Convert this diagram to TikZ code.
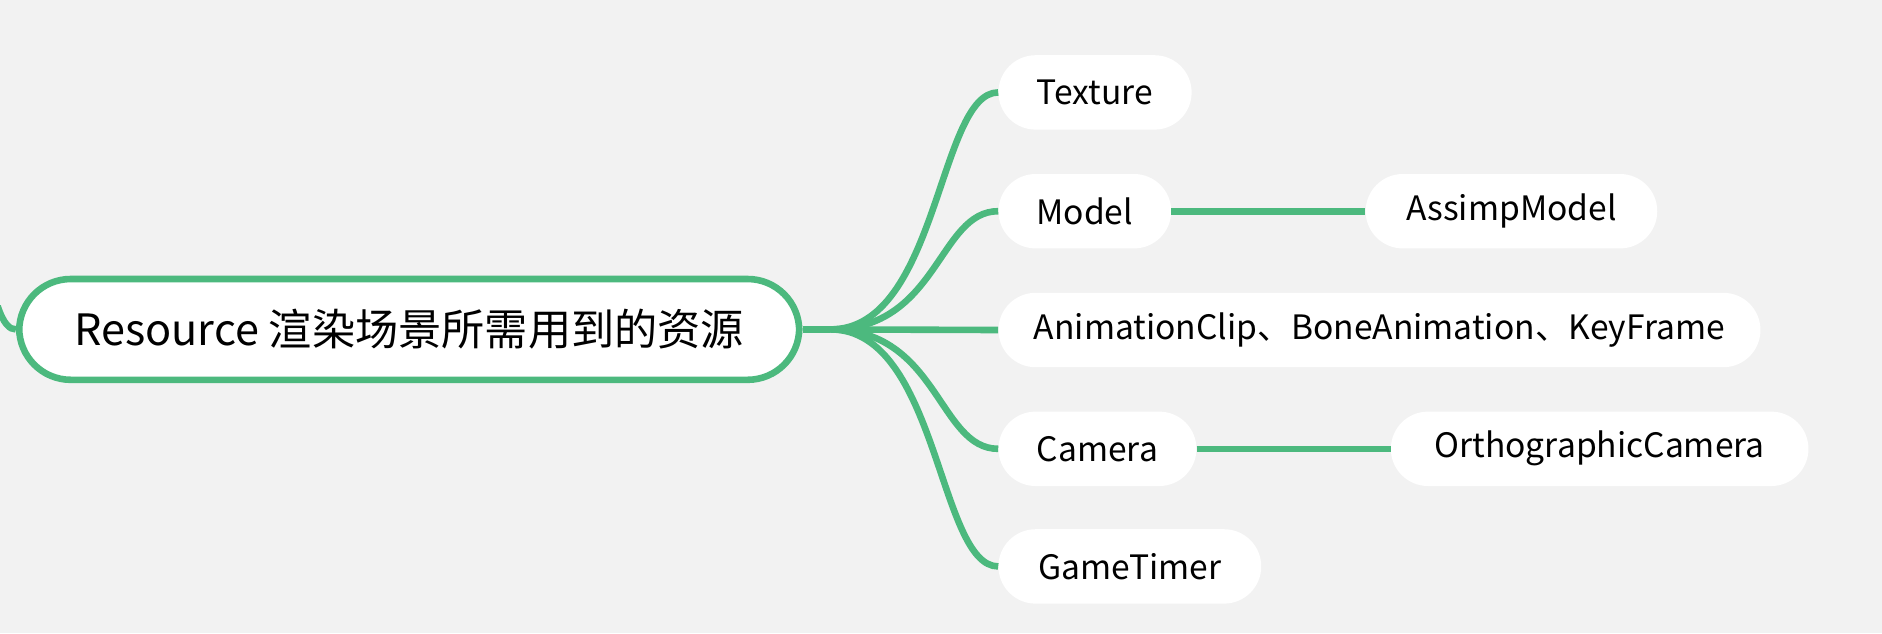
\documentclass[tikz,border=0pt]{standalone}
\usepackage{fontspec}
\setmainfont{Noto Sans CJK SC}
\definecolor{bg}{HTML}{F2F2F2}
\definecolor{lg}{HTML}{4CB97E}
\begin{document}
\begin{tikzpicture}[x=1pt,y=-1pt,
  rootbox/.style={draw=lg,line width=5.5pt,fill=white,rounded corners=43pt,minimum width=650pt,minimum height=84pt,inner sep=0pt,font=\fontsize{36}{42}\selectfont},
  leaf/.style={fill=white,rounded corners=31pt,minimum height=62pt,inner sep=0pt,font=\fontsize{28}{34}\selectfont},
  link/.style={draw=lg,line width=5.5pt}]
\useasboundingbox[fill=bg] (0,0) rectangle (1568.3,527.5);
\node[rootbox] (root) at (341,274.5) {Resource 渲染场景所需用到的资源\hspace{22pt}};
\node[leaf,minimum width=161pt] (tex) at (912.5,77) {Texture};
\node[leaf,minimum width=144pt] (model) at (904,176) {Model};
\node[leaf,minimum width=243pt] (assimp) at (1259.5,176) {AssimpModel};
\node[leaf,minimum width=635pt] (anim) at (1149.5,275) {AnimationClip、BoneAnimation、KeyFrame};
\node[leaf,minimum width=165pt] (cam) at (914.5,374) {Camera};
\node[leaf,minimum width=348pt] (ortho) at (1333,374) {OrthographicCamera};
\node[leaf,minimum width=219pt] (timer) at (941.5,472) {GameTimer};
\coordinate (hub) at (692,274.5);
\coordinate (pin) at (-2,255);
\draw[link] (pin) .. controls (3,270) and (8,274.5) .. (root.west);
\draw[link] (root.east) -- (hub);
\draw[link] (hub) -- (anim.west);
\draw[link] (hub) .. controls +(90,0) and +(-50,0) .. (tex.west);
\draw[link] (hub) .. controls +(90,0) and +(-50,0) .. (model.west);
\draw[link] (hub) .. controls +(90,0) and +(-50,0) .. (cam.west);
\draw[link] (hub) .. controls +(90,0) and +(-50,0) .. (timer.west);
\draw[link] (model.east) -- (assimp.west);
\draw[link] (cam.east) -- (ortho.west);
\end{tikzpicture}
\end{document}
